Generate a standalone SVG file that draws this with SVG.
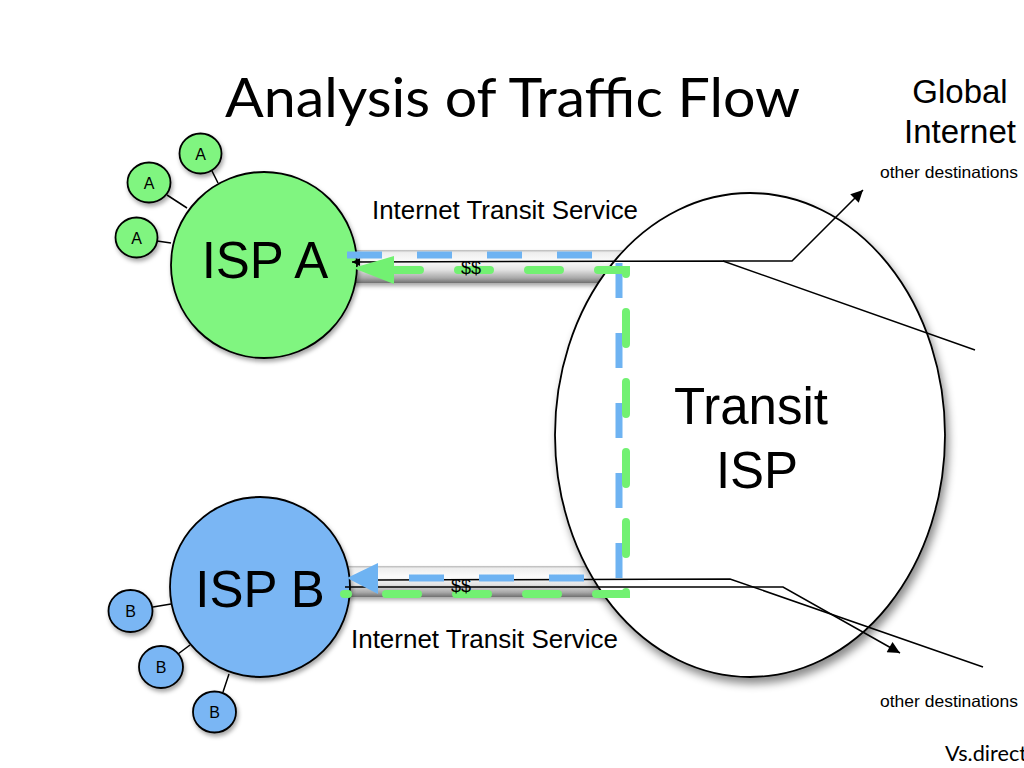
<svg xmlns="http://www.w3.org/2000/svg" width="1024" height="768" viewBox="0 0 1024 768">
<defs>
<style>
.lbl{font-family:"Liberation Sans",Arial,Helvetica,sans-serif;fill:#000}
.ttl{font-family:Lato,"Open Sans","Liberation Sans",sans-serif;fill:#000}
.big{font-size:51px;text-anchor:middle}
.sm{font-size:16px;text-anchor:middle}
.wire{fill:none;stroke:#000;stroke-width:1.5}
.link{stroke:#000;stroke-width:1.5}
.ga{fill:#80f580;stroke:#000;stroke-width:1.8}
.gb{fill:#7ab6f4;stroke:#000;stroke-width:1.8}
</style>
<linearGradient id="pipe" x1="0" y1="0" x2="0" y2="1">
<stop offset="0" stop-color="#b8b8b8"/>
<stop offset="0.08" stop-color="#eeeeee"/>
<stop offset="0.35" stop-color="#fbfbfb"/>
<stop offset="0.6" stop-color="#e2e2e2"/>
<stop offset="0.85" stop-color="#a8a8a8"/>
<stop offset="1" stop-color="#707070"/>
</linearGradient>
<filter id="sh" x="-10%" y="-10%" width="130%" height="130%">
<feDropShadow dx="3" dy="6" stdDeviation="4" flood-color="#000" flood-opacity="0.45"/>
</filter>
<filter id="shs" x="-20%" y="-20%" width="150%" height="150%">
<feDropShadow dx="1.5" dy="3" stdDeviation="2" flood-color="#000" flood-opacity="0.35"/>
</filter>
<marker id="ah" viewBox="0 0 10 10" refX="10" refY="5" markerWidth="16" markerHeight="12" markerUnits="userSpaceOnUse" orient="auto">
<path d="M0,0 L10,5 L0,10 Z" fill="#000"/>
</marker>
<marker id="ahs" viewBox="0 0 10 10" refX="10" refY="5" markerWidth="10" markerHeight="8" markerUnits="userSpaceOnUse" orient="auto">
<path d="M0,0 L10,5 L0,10 Z" fill="#000"/>
</marker>
</defs>
<rect width="1024" height="768" fill="#fff"/>

<text class="ttl" x="225" y="117" font-size="54" textLength="575" lengthAdjust="spacingAndGlyphs">Analysis of Traffic Flow</text>
<text class="lbl" x="960" y="103" font-size="33" text-anchor="middle">Global</text>
<text class="lbl" x="960" y="143" font-size="33" text-anchor="middle">Internet</text>
<text class="lbl" x="880" y="178" font-size="16.5" textLength="138" lengthAdjust="spacingAndGlyphs">other destinations</text>
<text class="lbl" x="880" y="707" font-size="16.5" textLength="138" lengthAdjust="spacingAndGlyphs">other destinations</text>
<text class="ttl" x="945" y="761" font-size="22" textLength="82" lengthAdjust="spacingAndGlyphs">Vs.direct</text>

<g id="pipes">
<rect x="352" y="250" width="290" height="33" fill="url(#pipe)" filter="url(#shs)"/>
<rect x="345" y="566" width="290" height="31" fill="url(#pipe)" filter="url(#shs)"/>
</g>

<g id="transit-isp">
<ellipse cx="750" cy="435" rx="195" ry="242" fill="#fff" stroke="#000" stroke-width="1.8" filter="url(#sh)"/>
<text class="lbl big" x="751" y="424" font-size="52">Transit</text>
<text class="lbl big" x="757" y="488">ISP</text>
</g>

<g id="links-small">
<line class="link" x1="212" y1="171" x2="218" y2="183"/>
<line class="link" x1="167" y1="195" x2="187" y2="208"/>
<line class="link" x1="157" y1="241" x2="171" y2="243"/>
<line class="link" x1="153" y1="607" x2="171" y2="604"/>
<line class="link" x1="178" y1="654" x2="190" y2="645"/>
<line class="link" x1="223" y1="692" x2="229" y2="674"/>
</g>

<g id="isp-a">
<circle class="ga" cx="264" cy="265" r="93" filter="url(#shs)"/>
<text class="lbl big" x="265" y="278">ISP A</text>
</g>
<g id="isp-b">
<circle class="gb" cx="260" cy="587" r="90" filter="url(#shs)"/>
<text class="lbl big" x="260" y="607">ISP B</text>
</g>

<g id="a1"><ellipse class="ga" cx="200.5" cy="153.5" rx="21" ry="20" filter="url(#shs)"/><text class="lbl sm" x="200.5" y="159.5">A</text></g>
<g id="a2"><ellipse class="ga" cx="149" cy="182.5" rx="21.5" ry="20" filter="url(#shs)"/><text class="lbl sm" x="149" y="188.5">A</text></g>
<g id="a3"><ellipse class="ga" cx="136.5" cy="237.5" rx="21" ry="20" filter="url(#shs)"/><text class="lbl sm" x="136.5" y="243.5">A</text></g>
<g id="b1"><ellipse class="gb" cx="130.5" cy="611" rx="22" ry="21" filter="url(#shs)"/><text class="lbl sm" x="130.5" y="617">B</text></g>
<g id="b2"><ellipse class="gb" cx="161" cy="667" rx="22" ry="21" filter="url(#shs)"/><text class="lbl sm" x="161" y="673">B</text></g>
<g id="b3"><ellipse class="gb" cx="214.5" cy="712" rx="21.5" ry="20.5" filter="url(#shs)"/><text class="lbl sm" x="214.5" y="718">B</text></g>

<text class="lbl" x="372" y="219" font-size="25" textLength="266" lengthAdjust="spacingAndGlyphs">Internet Transit Service</text>
<text class="lbl" x="351" y="648" font-size="25" textLength="267" lengthAdjust="spacingAndGlyphs">Internet Transit Service</text>

<g id="connectors">
<polyline class="wire" points="975,350 723,261 352,262" marker-end="url(#ahs)"/>
<polyline class="wire" points="723,261 792,261 863,190" marker-end="url(#ah)"/>
<polyline class="wire" points="377,580 730,579 983,667"/>
<polyline class="wire" points="345,587 783,587 900,653" marker-end="url(#ah)"/>

<path d="M347,255 H619 V578 H378" fill="none" stroke="#6eb3f2" stroke-width="7" stroke-dasharray="35 35"/>
<path d="M347,578 L378,563 L378,594 Z" fill="#6eb3f2"/>

<path d="M344,594 H626 V270 H395" fill="none" stroke="#72f172" stroke-width="8" stroke-linecap="round" stroke-dasharray="32 38" stroke-dashoffset="28"/>
<path d="M353,268 L394,256 L394,284 Z" fill="#72f172"/>
</g>

<text class="lbl" x="461" y="274" font-size="18">$$</text>
<text class="lbl" x="451" y="592" font-size="18">$$</text>
</svg>
